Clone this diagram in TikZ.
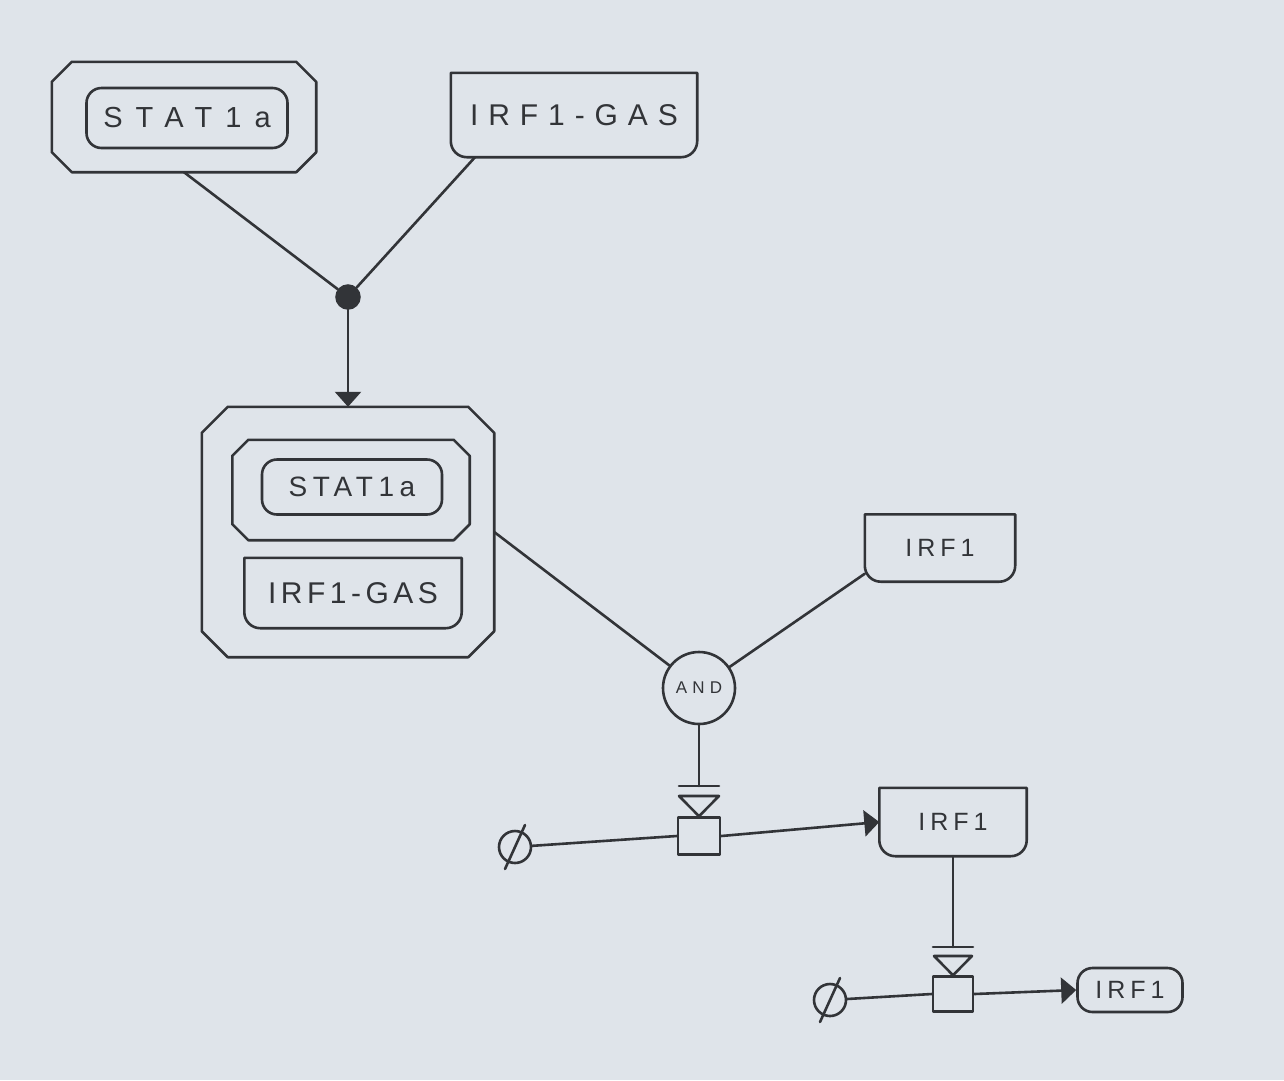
\documentclass[tikz,border=0pt]{standalone}
\usepackage{fontspec}
\usetikzlibrary{arrows.meta}
\newfontfamily\handfont{Liberation Sans}
\definecolor{paper}{RGB}{223,228,234}
\definecolor{ink}{RGB}{50,52,56}
\newcommand\hw[3]{{\handfont\fontsize{#1}{#1}\selectfont\addfontfeature{LetterSpace=#2}#3}}
\newcommand\nashape[2]{\draw[ln] (#1.north west) -- (#1.north east) -- ([yshift=#2]#1.south east) arc[start angle=0,end angle=-90,radius=#2] -- ([xshift=#2]#1.south west) arc[start angle=270,end angle=180,radius=#2] -- cycle;}
\newcommand\octo[2]{\draw[ln] ([xshift=#2]#1.north west) -- ([xshift=-#2]#1.north east) -- ([yshift=-#2]#1.north east) -- ([yshift=#2]#1.south east) -- ([xshift=-#2]#1.south east) -- ([xshift=#2]#1.south west) -- ([yshift=#2]#1.south west) -- ([yshift=-#2]#1.north west) -- cycle;}
\newcommand\sinkslash[1]{\draw[ln] ([xshift=-10pt,yshift=-22pt]#1.center) -- ([xshift=10pt,yshift=22pt]#1.center);}
\tikzset{
  ln/.style={draw=ink, line width=2.6pt, line join=round, line cap=round},
  mm/.style={ln, rectangle, rounded corners=15pt, inner sep=0pt, text=ink},
  cx/.style={rectangle, inner sep=0pt},
  na/.style={rectangle, inner sep=0pt, text=ink},
  pn/.style={ln, rectangle, inner sep=0pt, minimum width=42pt, minimum height=37pt, fill=paper},
  sink/.style={ln, circle, inner sep=0pt, minimum size=32pt},
  prod/.style={ln, -{Triangle[length=15pt,width=26pt]}},
}
\begin{document}
\begin{tikzpicture}[x=1pt,y=-1pt]
\fill[paper] (0,0) rectangle (1284,1080);
\useasboundingbox (0,0) rectangle (1284,1080);

% top complex
\node[cx, minimum width=264pt, minimum height=110pt] (cplx1) at (184,117) {};
\octo{cplx1}{20pt}
\node[mm, minimum width=201pt, minimum height=60pt] (stat1) at (187,118) {\hw{29}{45}{STAT1a}};
% top IRF1-GAS (nucleic acid feature)
\node[na, minimum width=246pt, minimum height=84pt] (gas1) at (574,115) {\hw{30}{33}{IRF1-GAS}};
\nashape{gas1}{16pt}
% association
\node[circle, fill=ink, draw=ink, line width=1.5pt, minimum size=24pt, inner sep=0pt] (assoc) at (348,297) {};

% middle complex
\node[cx, minimum width=292pt, minimum height=250pt] (cplx2) at (348,532) {};
\octo{cplx2}{26pt}
\node[cx, minimum width=237pt, minimum height=100pt] (cplx3) at (351,490) {};
\octo{cplx3}{16pt}
\node[mm, minimum width=180pt, minimum height=55pt] (stat2) at (352,487) {\hw{28}{20}{STAT1a}};
\node[na, minimum width=217pt, minimum height=70pt] (gas2) at (353,593) {\hw{30}{15}{IRF1-GAS}};
\nashape{gas2}{16pt}

% IRF1 upper right
\node[na, minimum width=150pt, minimum height=67pt] (irf1a) at (940,548) {\hw{25}{20}{IRF1}};
\nashape{irf1a}{16pt}
% AND
\node[ln, circle, minimum size=72pt, inner sep=0pt, text=ink] (and) at (699,688) {\hw{17}{30}{AND}};

% process 1
\node[pn] (p1) at (699,836) {};
\coordinate (b1) at (699,786);
\coordinate (t1) at (699,796);
\node[sink] (s1) at (515,847) {};
\sinkslash{s1}
\node[na, minimum width=147pt, minimum height=68pt] (irf1b) at (953,822) {\hw{25}{20}{IRF1}};
\nashape{irf1b}{16pt}

% process 2
\node[pn, minimum width=40pt, minimum height=35pt] (p2) at (953,994) {};
\coordinate (b2) at (953,947);
\coordinate (t2) at (953,956);
\node[sink] (s2) at (830,1000) {};
\sinkslash{s2}
\node[mm, minimum width=105pt, minimum height=44pt] (irf1c) at (1130,990) {\hw{25}{20}{IRF1}};

% connectors
\draw[ln] (cplx1.south) -- (assoc);
\draw[ln] ([xshift=-99pt]gas1.south) -- (assoc);
\draw[prod] (assoc) -- (cplx2.north);
\draw[ln] (cplx2.east) -- (and);
\draw[ln] ([yshift=8pt]irf1a.south west) -- (and);

\draw[ln] (and) -- (b1);
\draw[ln] ([xshift=-20pt]b1) -- ([xshift=20pt]b1);
\draw[ln] ([xshift=-20pt]t1) -- ([xshift=20pt]t1) -- (p1.north) -- cycle;
\draw[ln] (s1) -- (p1.west);
\draw[prod] (p1.east) -- (irf1b.west);

\draw[ln] (irf1b.south) -- (b2);
\draw[ln] ([xshift=-20pt]b2) -- ([xshift=20pt]b2);
\draw[ln] ([xshift=-19pt]t2) -- ([xshift=19pt]t2) -- (p2.north) -- cycle;
\draw[ln] (s2) -- (p2.west);
\draw[prod] (p2.east) -- (irf1c.west);
\end{tikzpicture}
\end{document}
